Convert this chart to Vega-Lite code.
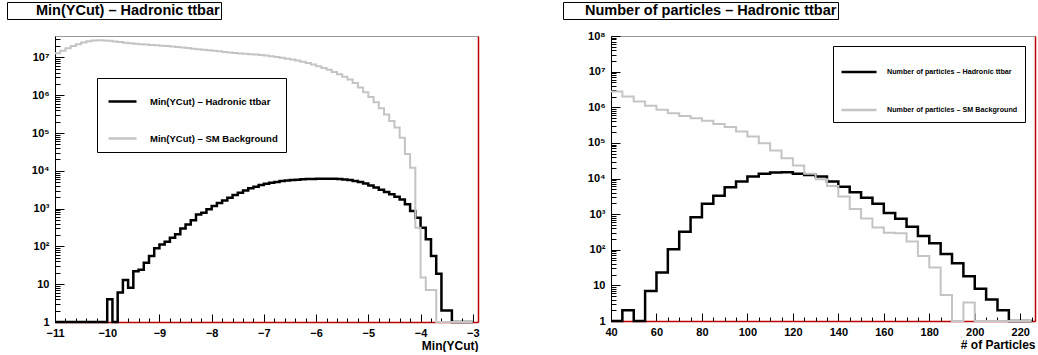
{
  "$schema": "https://vega.github.io/schema/vega-lite/v6.json",
  "padding": {"left": 6, "top": 1, "right": 0, "bottom": 0},
  "background": "white",
  "spacing": 82,
  "config": {
    "font": "Liberation Sans",
    "view": {"stroke": null},
    "axis": {"labelFont": "Liberation Sans", "labelFontWeight": "bold", "titleFont": "Liberation Sans", "titleFontWeight": "bold", "grid": false, "tickColor": "black", "domainColor": "black", "labelColor": "black", "titleColor": "black", "tickWidth": 1, "labelFontSize": 11, "titleFontSize": 12, "labelOverlap": false, "labelFlush": false},
    "legend": {"labelFont": "Liberation Sans", "labelFontWeight": "bold", "labelColor": "black", "fillColor": "white", "strokeColor": "black", "symbolType": "stroke", "labelLimit": 0, "cornerRadius": 0, "direction": "vertical"}
  },
  "resolve": {"scale": {"color": "independent", "strokeDash": "independent"}, "legend": {"color": "independent", "strokeDash": "independent"}},
  "datasets": {
    "ycut_tt": [
      {"x": -11.0, "n": 0}, {"x": -10.9, "n": 0}, {"x": -10.8, "n": 0}, {"x": -10.7, "n": 0}, {"x": -10.6, "n": 0},
      {"x": -10.5, "n": 0}, {"x": -10.4, "n": 0}, {"x": -10.3, "n": 0}, {"x": -10.2, "n": 0}, {"x": -10.1, "n": 0},
      {"x": -10.0, "n": 4}, {"x": -9.9, "n": 0}, {"x": -9.8, "n": 6}, {"x": -9.7, "n": 13}, {"x": -9.6, "n": 8},
      {"x": -9.5, "n": 22}, {"x": -9.4, "n": 24}, {"x": -9.3, "n": 37}, {"x": -9.2, "n": 56}, {"x": -9.1, "n": 89},
      {"x": -9.0, "n": 113}, {"x": -8.9, "n": 133}, {"x": -8.8, "n": 170}, {"x": -8.7, "n": 210}, {"x": -8.6, "n": 300},
      {"x": -8.5, "n": 380}, {"x": -8.4, "n": 490}, {"x": -8.3, "n": 700}, {"x": -8.2, "n": 780}, {"x": -8.1, "n": 960},
      {"x": -8.0, "n": 1170}, {"x": -7.9, "n": 1400}, {"x": -7.8, "n": 1650}, {"x": -7.7, "n": 1940}, {"x": -7.6, "n": 2280},
      {"x": -7.5, "n": 2630}, {"x": -7.4, "n": 3030}, {"x": -7.3, "n": 3450}, {"x": -7.2, "n": 3800}, {"x": -7.1, "n": 4200},
      {"x": -7.0, "n": 4550}, {"x": -6.9, "n": 4850}, {"x": -6.8, "n": 5100}, {"x": -6.7, "n": 5350}, {"x": -6.6, "n": 5550},
      {"x": -6.5, "n": 5700}, {"x": -6.4, "n": 5850}, {"x": -6.3, "n": 5950}, {"x": -6.2, "n": 6050}, {"x": -6.1, "n": 6100},
      {"x": -6.0, "n": 6150}, {"x": -5.9, "n": 6200}, {"x": -5.8, "n": 6200}, {"x": -5.7, "n": 6150}, {"x": -5.6, "n": 6050},
      {"x": -5.5, "n": 5900}, {"x": -5.4, "n": 5700}, {"x": -5.3, "n": 5400}, {"x": -5.2, "n": 5050}, {"x": -5.1, "n": 4600},
      {"x": -5.0, "n": 4100}, {"x": -4.9, "n": 3600}, {"x": -4.8, "n": 3150}, {"x": -4.7, "n": 2750}, {"x": -4.6, "n": 2400},
      {"x": -4.5, "n": 2050}, {"x": -4.4, "n": 1750}, {"x": -4.3, "n": 1300}, {"x": -4.2, "n": 870}, {"x": -4.1, "n": 575},
      {"x": -4.0, "n": 310}, {"x": -3.9, "n": 155}, {"x": -3.8, "n": 56}, {"x": -3.7, "n": 19}, {"x": -3.6, "n": 2},
      {"x": -3.5, "n": 2}, {"x": -3.4, "n": 0}, {"x": -3.3, "n": 0}, {"x": -3.2, "n": 0}, {"x": -3.1, "n": 0}, {"x": -3.0, "n": 0}
    ],
    "ycut_bg": [
      {"x": -11.0, "n": 13000000}, {"x": -10.9, "n": 15000000}, {"x": -10.8, "n": 17500000}, {"x": -10.7, "n": 20000000}, {"x": -10.6, "n": 22500000},
      {"x": -10.5, "n": 25000000}, {"x": -10.4, "n": 27000000}, {"x": -10.3, "n": 28000000}, {"x": -10.2, "n": 28500000}, {"x": -10.1, "n": 28000000},
      {"x": -10.0, "n": 27500000}, {"x": -9.9, "n": 26500000}, {"x": -9.8, "n": 25500000}, {"x": -9.7, "n": 24500000}, {"x": -9.6, "n": 23800000},
      {"x": -9.5, "n": 23000000}, {"x": -9.4, "n": 22500000}, {"x": -9.3, "n": 22000000}, {"x": -9.2, "n": 21500000}, {"x": -9.1, "n": 21000000},
      {"x": -9.0, "n": 20500000}, {"x": -8.9, "n": 20000000}, {"x": -8.8, "n": 19500000}, {"x": -8.7, "n": 19000000}, {"x": -8.6, "n": 18300000},
      {"x": -8.5, "n": 17700000}, {"x": -8.4, "n": 17000000}, {"x": -8.3, "n": 16500000}, {"x": -8.2, "n": 16000000}, {"x": -8.1, "n": 15500000},
      {"x": -8.0, "n": 15000000}, {"x": -7.9, "n": 14500000}, {"x": -7.8, "n": 14000000}, {"x": -7.7, "n": 13600000}, {"x": -7.6, "n": 13200000},
      {"x": -7.5, "n": 12800000}, {"x": -7.4, "n": 12500000}, {"x": -7.3, "n": 12200000}, {"x": -7.2, "n": 11900000}, {"x": -7.1, "n": 11600000},
      {"x": -7.0, "n": 11200000}, {"x": -6.9, "n": 10800000}, {"x": -6.8, "n": 10300000}, {"x": -6.7, "n": 9800000}, {"x": -6.6, "n": 9300000},
      {"x": -6.5, "n": 8800000}, {"x": -6.4, "n": 8300000}, {"x": -6.3, "n": 7700000}, {"x": -6.2, "n": 7100000}, {"x": -6.1, "n": 6500000},
      {"x": -6.0, "n": 5900000}, {"x": -5.9, "n": 5300000}, {"x": -5.8, "n": 4700000}, {"x": -5.7, "n": 4100000}, {"x": -5.6, "n": 3600000},
      {"x": -5.5, "n": 3100000}, {"x": -5.4, "n": 2600000}, {"x": -5.3, "n": 2100000}, {"x": -5.2, "n": 1600000}, {"x": -5.1, "n": 1200000},
      {"x": -5.0, "n": 900000}, {"x": -4.9, "n": 650000}, {"x": -4.8, "n": 450000}, {"x": -4.7, "n": 310000}, {"x": -4.6, "n": 210000},
      {"x": -4.5, "n": 140000}, {"x": -4.4, "n": 75000}, {"x": -4.3, "n": 28000}, {"x": -4.2, "n": 12000}, {"x": -4.1, "n": 310},
      {"x": -4.0, "n": 15}, {"x": -3.9, "n": 7}, {"x": -3.8, "n": 7}, {"x": -3.7, "n": 0}, {"x": -3.6, "n": 0},
      {"x": -3.5, "n": 0}, {"x": -3.4, "n": 0}, {"x": -3.3, "n": 0}, {"x": -3.2, "n": 0}, {"x": -3.1, "n": 0}, {"x": -3.0, "n": 0}
    ],
    "np_tt": [
      {"x": 40, "n": 0}, {"x": 45, "n": 2}, {"x": 50, "n": 0}, {"x": 55, "n": 7}, {"x": 60, "n": 23},
      {"x": 65, "n": 103}, {"x": 70, "n": 320}, {"x": 75, "n": 820}, {"x": 80, "n": 1940}, {"x": 85, "n": 3300},
      {"x": 90, "n": 5700}, {"x": 95, "n": 8200}, {"x": 100, "n": 11300}, {"x": 105, "n": 13500}, {"x": 110, "n": 14700},
      {"x": 115, "n": 15000}, {"x": 120, "n": 13500}, {"x": 125, "n": 12600}, {"x": 130, "n": 11300}, {"x": 135, "n": 8200},
      {"x": 140, "n": 5900}, {"x": 145, "n": 4100}, {"x": 150, "n": 2900}, {"x": 155, "n": 1950}, {"x": 160, "n": 1080},
      {"x": 165, "n": 740}, {"x": 170, "n": 445}, {"x": 175, "n": 245}, {"x": 180, "n": 152}, {"x": 185, "n": 76},
      {"x": 190, "n": 42}, {"x": 195, "n": 18}, {"x": 200, "n": 8}, {"x": 205, "n": 4}, {"x": 210, "n": 2},
      {"x": 215, "n": 0}, {"x": 220, "n": 0}, {"x": 225, "n": 0}
    ],
    "np_bg": [
      {"x": 40, "n": 2750000}, {"x": 45, "n": 2000000}, {"x": 50, "n": 1450000}, {"x": 55, "n": 1100000}, {"x": 60, "n": 850000},
      {"x": 65, "n": 680000}, {"x": 70, "n": 570000}, {"x": 75, "n": 490000}, {"x": 80, "n": 420000}, {"x": 85, "n": 340000},
      {"x": 90, "n": 280000}, {"x": 95, "n": 210000}, {"x": 100, "n": 150000}, {"x": 105, "n": 98000}, {"x": 110, "n": 61000},
      {"x": 115, "n": 37000}, {"x": 120, "n": 23000}, {"x": 125, "n": 13500}, {"x": 130, "n": 9500}, {"x": 135, "n": 6200},
      {"x": 140, "n": 3100}, {"x": 145, "n": 1400}, {"x": 150, "n": 750}, {"x": 155, "n": 420}, {"x": 160, "n": 300},
      {"x": 165, "n": 290}, {"x": 170, "n": 170}, {"x": 175, "n": 67}, {"x": 180, "n": 32}, {"x": 185, "n": 5.4},
      {"x": 190, "n": 0}, {"x": 195, "n": 3.3}, {"x": 200, "n": 0}, {"x": 205, "n": 0}, {"x": 210, "n": 0},
      {"x": 215, "n": 0}, {"x": 220, "n": 0}, {"x": 225, "n": 0}
    ]
  },
  "hconcat": [
    {
      "width": 423, "height": 286,
      "view": {"stroke": "#999999", "strokeWidth": 1},
      "layer": [
        {
          "data": {"name": "ycut_tt"},
          "mark": {"type": "line", "interpolate": "step-after", "strokeWidth": 2.5, "invalid": "show"},
          "encoding": {
            "x": {"field": "x", "type": "quantitative", "scale": {"domain": [-11, -2.9], "nice": false, "zero": false},
              "axis": {"orient": "bottom", "title": "Min(YCut)", "titleAnchor": "end", "titlePadding": 2, "domainColor": "#c00000", "domainWidth": 1.5,
                "values": [-11, -10, -9, -8, -7, -6, -5, -4, -3], "format": "d", "labelPadding": 13, "tickSize": -8}},
            "y": {"field": "n", "type": "quantitative", "scale": {"type": "log", "domain": [1, 37000000], "clamp": true, "nice": false},
              "axis": {"title": null, "labelPadding": 15, "labelOverlap": false,
                "values": [1,2,3,4,5,6,7,8,9,10,20,30,40,50,60,70,80,90,100,200,300,400,500,600,700,800,900,1000,2000,3000,4000,5000,6000,7000,8000,9000,10000,20000,30000,40000,50000,60000,70000,80000,90000,100000,200000,300000,400000,500000,600000,700000,800000,900000,1000000,2000000,3000000,4000000,5000000,6000000,7000000,8000000,9000000,10000000,20000000,30000000],
                "labelExpr": "abs(log(datum.value)/LN10 - round(log(datum.value)/LN10)) < 0.000001 ? (round(log(datum.value)/LN10) == 0 ? '1' : round(log(datum.value)/LN10) == 1 ? '10' : '10' + ['⁰','¹','²','³','⁴','⁵','⁶','⁷','⁸'][round(log(datum.value)/LN10)]) : ''",
                "tickSize": {"condition": {"test": "abs(log(datum.value)/LN10 - round(log(datum.value)/LN10)) < 0.000001", "value": -9}, "value": -5}}},
            "color": {"datum": "Min(YCut) – Hadronic ttbar", "type": "nominal",
              "scale": {"domain": ["Min(YCut) – Hadronic ttbar", "Min(YCut) – SM Background"], "range": ["#000000", "#c4c4c4"]},
              "legend": {"title": null, "orient": "top-left", "offset": 42, "padding": 8, "symbolOffset": 2, "rowPadding": 16, "symbolSize": 784, "symbolStrokeWidth": 2.5, "labelFontSize": 9.5, "labelOffset": 12}}
          }
        },
        {
          "data": {"name": "ycut_bg"},
          "mark": {"type": "line", "interpolate": "step-after", "strokeWidth": 2, "invalid": "show"},
          "encoding": {
            "x": {"field": "x", "type": "quantitative",
              "axis": {"orient": "bottom", "title": null, "labels": false, "domain": false, "tickSize": -4,
                "values": [-10.8, -10.6, -10.4, -10.2, -9.8, -9.6, -9.4, -9.2, -8.8, -8.6, -8.4, -8.2, -7.8, -7.6, -7.4, -7.2, -6.8, -6.6, -6.4, -6.2, -5.8, -5.6, -5.4, -5.2, -4.8, -4.6, -4.4, -4.2, -3.8, -3.6, -3.4, -3.2]}},
            "y": {"field": "n", "type": "quantitative", "axis": {"orient": "right", "labels": false, "ticks": false, "title": null, "domainColor": "#c00000", "domainWidth": 1.5}},
            "color": {"datum": "Min(YCut) – SM Background", "type": "nominal"},
            "strokeDash": {"datum": "Min(YCut) – Hadronic ttbar", "type": "nominal", "scale": {"range": [[1, 0]]},
              "legend": {"title": null, "orient": "none", "legendX": -48, "legendY": -34, "padding": 1, "symbolSize": 196, "symbolOpacity": 0, "symbolOffset": 0, "labelOffset": 12, "labelFontSize": 14.5, "labelExpr": "datum.label + '\u00a0\u00a0\u00a0'"}}
          }
        }
      ],
      "resolve": {"axis": {"x": "independent", "y": "independent"}}
    },
    {
      "width": 424, "height": 285,
      "view": {"stroke": "#999999", "strokeWidth": 1},
      "layer": [
        {
          "data": {"name": "np_tt"},
          "mark": {"type": "line", "interpolate": "step-after", "strokeWidth": 2.5, "invalid": "show"},
          "encoding": {
            "x": {"field": "x", "type": "quantitative", "scale": {"domain": [40, 226.5], "nice": false, "zero": false},
              "axis": {"orient": "bottom", "title": "# of Particles", "titleAnchor": "end", "titlePadding": 2, "domainColor": "#c00000", "domainWidth": 1.5,
                "values": [40, 60, 80, 100, 120, 140, 160, 180, 200, 220], "format": "d", "labelPadding": 13, "tickSize": -8}},
            "y": {"field": "n", "type": "quantitative", "scale": {"type": "log", "domain": [1, 100000000], "clamp": true, "nice": false},
              "axis": {"title": null, "labelPadding": 15, "labelOverlap": false,
                "values": [1,2,3,4,5,6,7,8,9,10,20,30,40,50,60,70,80,90,100,200,300,400,500,600,700,800,900,1000,2000,3000,4000,5000,6000,7000,8000,9000,10000,20000,30000,40000,50000,60000,70000,80000,90000,100000,200000,300000,400000,500000,600000,700000,800000,900000,1000000,2000000,3000000,4000000,5000000,6000000,7000000,8000000,9000000,10000000,20000000,30000000,40000000,50000000,60000000,70000000,80000000,90000000,100000000],
                "labelExpr": "abs(log(datum.value)/LN10 - round(log(datum.value)/LN10)) < 0.000001 ? (round(log(datum.value)/LN10) == 0 ? '1' : round(log(datum.value)/LN10) == 1 ? '10' : '10' + ['⁰','¹','²','³','⁴','⁵','⁶','⁷','⁸'][round(log(datum.value)/LN10)]) : ''",
                "tickSize": {"condition": {"test": "abs(log(datum.value)/LN10 - round(log(datum.value)/LN10)) < 0.000001", "value": -9}, "value": -5}}},
            "color": {"datum": "Number of particles – Hadronic ttbar", "type": "nominal",
              "scale": {"domain": ["Number of particles – Hadronic ttbar", "Number of particles – SM Background"], "range": ["#000000", "#c4c4c4"]},
              "legend": {"title": null, "orient": "top-right", "offset": 10, "padding": 7, "symbolOffset": 0, "rowPadding": 14, "symbolSize": 1225, "symbolStrokeWidth": 2.5, "labelFontSize": 7.2, "labelOffset": 9}}
          }
        },
        {
          "data": {"name": "np_bg"},
          "mark": {"type": "line", "interpolate": "step-after", "strokeWidth": 2, "invalid": "show"},
          "encoding": {
            "x": {"field": "x", "type": "quantitative",
              "axis": {"orient": "bottom", "title": null, "labels": false, "domain": false, "tickSize": -4,
                "values": [45, 50, 55, 65, 70, 75, 85, 90, 95, 105, 110, 115, 125, 130, 135, 145, 150, 155, 165, 170, 175, 185, 190, 195, 205, 210, 215, 225]}},
            "y": {"field": "n", "type": "quantitative", "axis": {"orient": "right", "labels": false, "ticks": false, "title": null, "domainColor": "#c00000", "domainWidth": 1.5}},
            "color": {"datum": "Number of particles – SM Background", "type": "nominal"},
            "strokeDash": {"datum": "Number of particles – Hadronic ttbar", "type": "nominal", "scale": {"range": [[1, 0]]},
              "legend": {"title": null, "orient": "none", "legendX": -48, "legendY": -34, "padding": 1, "symbolSize": 196, "symbolOpacity": 0, "symbolOffset": 0, "labelOffset": 5, "labelFontSize": 14.5, "labelExpr": "datum.label + '\u00a0\u00a0\u00a0\u00a0'"}}
          }
        }
      ],
      "resolve": {"axis": {"x": "independent", "y": "independent"}}
    }
  ]
}
